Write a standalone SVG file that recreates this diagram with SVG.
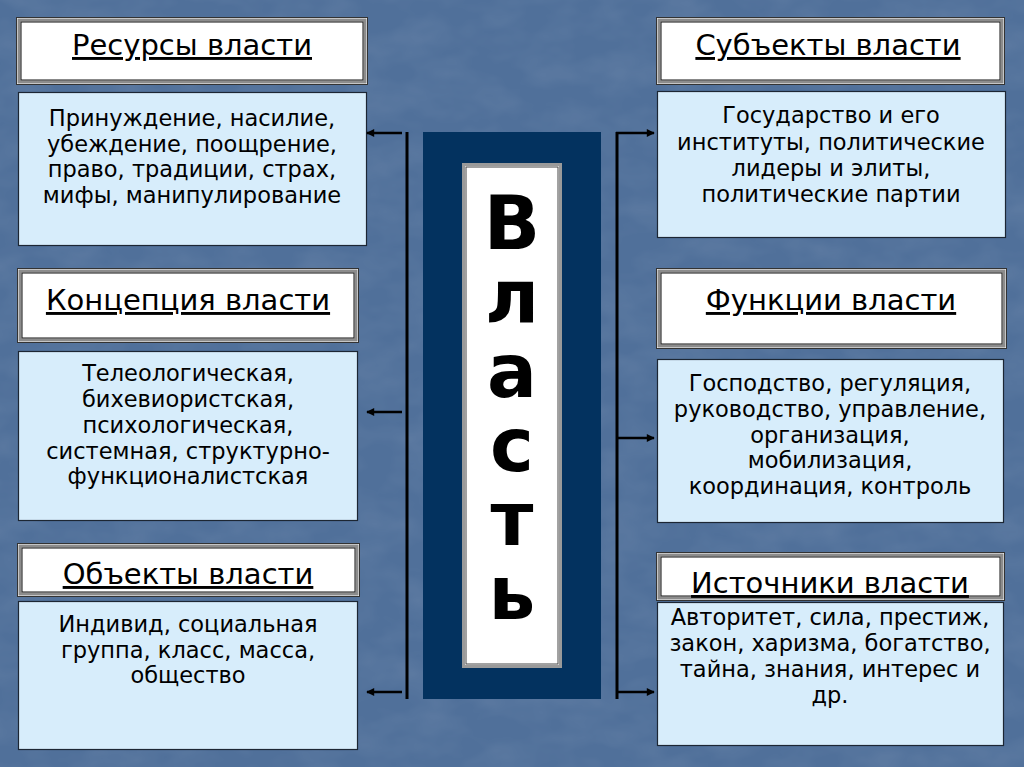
<svg xmlns="http://www.w3.org/2000/svg" width="1024" height="767" viewBox="0 0 1024 767">
<defs>
<filter id="tex" x="0" y="0" width="100%" height="100%">
<feTurbulence type="fractalNoise" baseFrequency="0.02 0.035" numOctaves="3" seed="7" result="n"/>
<feColorMatrix in="n" type="matrix" values="0 0 0 0 1  0 0 0 0 1  0 0 0 0 1  0 0 0 0.3 -0.1"/>
</filter>
<marker id="ah" viewBox="0 0 10 10" refX="9" refY="5" markerWidth="10" markerHeight="8" markerUnits="userSpaceOnUse" orient="auto">
<path d="M0,0 L10,5 L0,10 z" fill="#000"/>
</marker>
</defs>
<style>
.hdr-o{fill:#fff;stroke:#333;stroke-width:1}
.hdr-m{fill:none;stroke:#8c8c8c;stroke-width:3}
.hdr-i{fill:none;stroke:#111;stroke-width:1}
.body{fill:#d7edfb;stroke:#1c2633;stroke-width:1.2}
.ht{font-family:"DejaVu Sans","Verdana",sans-serif;font-size:29px;text-anchor:middle;fill:#000;text-decoration:underline}
.bt{font-family:"DejaVu Sans","Verdana",sans-serif;font-size:22.5px;text-anchor:middle;fill:#000}
.big{font-family:"DejaVu Sans","Verdana",sans-serif;font-weight:bold;font-size:74px;fill:#000;writing-mode:vertical-rl;text-orientation:upright;letter-spacing:-12px}
.ln{stroke:#000;stroke-width:3;fill:none}
.ar{stroke:#000;stroke-width:2.5;fill:none;marker-end:url(#ah)}
</style>
<rect x="0" y="0" width="1024" height="767" fill="#50709a"/>
<rect x="0" y="0" width="1024" height="767" filter="url(#tex)" opacity="0.4"/>

<g id="center">
<rect x="423" y="132" width="178" height="567" fill="#03325f"/>
<rect x="463.5" y="164.5" width="97" height="502" fill="#fff" stroke="#9a9a9a" stroke-width="3"/>
<rect x="466" y="167" width="92" height="497" fill="none" stroke="#444" stroke-width="1"/>
<text class="big" x="512" y="180">Власть</text>
</g>

<g id="resources">
<rect class="hdr-o" x="16.5" y="17.5" width="351" height="67"/>
<rect class="hdr-m" x="19" y="20" width="346" height="62"/>
<rect class="hdr-i" x="21" y="22" width="342" height="58"/>
<text class="ht" x="192" y="55">Ресурсы власти</text>
<rect class="body" x="18.5" y="92.5" width="348" height="153"/>
<text class="bt" x="192" y="126">Принуждение, насилие,</text>
<text class="bt" x="192" y="152">убеждение, поощрение,</text>
<text class="bt" x="192" y="177">право, традиции, страх,</text>
<text class="bt" x="192" y="203">мифы, манипулирование</text>
</g>

<g id="concept">
<rect class="hdr-o" x="17.5" y="268.5" width="341" height="74"/>
<rect class="hdr-m" x="20" y="271" width="336" height="69"/>
<rect class="hdr-i" x="22" y="273" width="332" height="65"/>
<text class="ht" x="188" y="310">Концепция власти</text>
<rect class="body" x="18.5" y="351.5" width="339" height="169"/>
<text class="bt" x="188" y="381">Телеологическая,</text>
<text class="bt" x="188" y="407">бихевиористская,</text>
<text class="bt" x="188" y="433">психологическая,</text>
<text class="bt" x="188" y="459">системная, структурно-</text>
<text class="bt" x="188" y="484">функционалистская</text>
</g>

<g id="objects">
<rect class="hdr-o" x="17.5" y="543.5" width="342" height="53"/>
<rect class="hdr-m" x="20" y="546" width="337" height="48"/>
<rect class="hdr-i" x="22" y="548" width="333" height="44"/>
<text class="ht" x="188" y="584">Объекты власти</text>
<rect class="body" x="18.5" y="601.5" width="339" height="148"/>
<text class="bt" x="188" y="632">Индивид, социальная</text>
<text class="bt" x="188" y="657.5">группа, класс, масса,</text>
<text class="bt" x="188" y="683">общество</text>
</g>

<g id="subjects">
<rect class="hdr-o" x="656.5" y="17.5" width="348" height="67"/>
<rect class="hdr-m" x="659" y="20" width="343" height="62"/>
<rect class="hdr-i" x="661" y="22" width="339" height="58"/>
<text class="ht" x="828" y="55">Субъекты власти</text>
<rect class="body" x="657.5" y="91.5" width="348" height="146"/>
<text class="bt" x="831" y="123">Государство и его</text>
<text class="bt" x="831" y="149.5">институты, политические</text>
<text class="bt" x="831" y="176">лидеры и элиты,</text>
<text class="bt" x="831" y="202">политические партии</text>
</g>

<g id="functions">
<rect class="hdr-o" x="656.5" y="268.5" width="350" height="80"/>
<rect class="hdr-m" x="659" y="271" width="345" height="75"/>
<rect class="hdr-i" x="661" y="273" width="341" height="71"/>
<text class="ht" x="831" y="310">Функции власти</text>
<rect class="body" x="657.5" y="359.5" width="346" height="163"/>
<text class="bt" x="830" y="391">Господство, регуляция,</text>
<text class="bt" x="830" y="417">руководство, управление,</text>
<text class="bt" x="830" y="443">организация,</text>
<text class="bt" x="830" y="468">мобилизация,</text>
<text class="bt" x="830" y="494">координация, контроль</text>
</g>

<g id="sources">
<rect class="hdr-o" x="656.5" y="552.5" width="348" height="48"/>
<rect class="hdr-m" x="659" y="555" width="343" height="43"/>
<rect class="hdr-i" x="661" y="557" width="339" height="39"/>
<text class="ht" x="830" y="593">Источники власти</text>
<rect class="body" x="657.5" y="602.5" width="346" height="143"/>
<text class="bt" x="830" y="625">Авторитет, сила, престиж,</text>
<text class="bt" x="830" y="651">закон, харизма, богатство,</text>
<text class="bt" x="830" y="677">тайна, знания, интерес и</text>
<text class="bt" x="830" y="703">др.</text>
</g>

<g id="connectors">
<line class="ln" x1="407" y1="132" x2="407" y2="699"/>
<line class="ar" x1="402" y1="133" x2="367" y2="133"/>
<line class="ar" x1="402" y1="412" x2="367" y2="412"/>
<line class="ar" x1="402" y1="692" x2="367" y2="692"/>
<line class="ln" x1="617" y1="132" x2="617" y2="699"/>
<line class="ar" x1="616" y1="133" x2="654" y2="133"/>
<line class="ar" x1="616" y1="438" x2="654" y2="438"/>
<line class="ar" x1="616" y1="692" x2="654" y2="692"/>
</g>
</svg>
